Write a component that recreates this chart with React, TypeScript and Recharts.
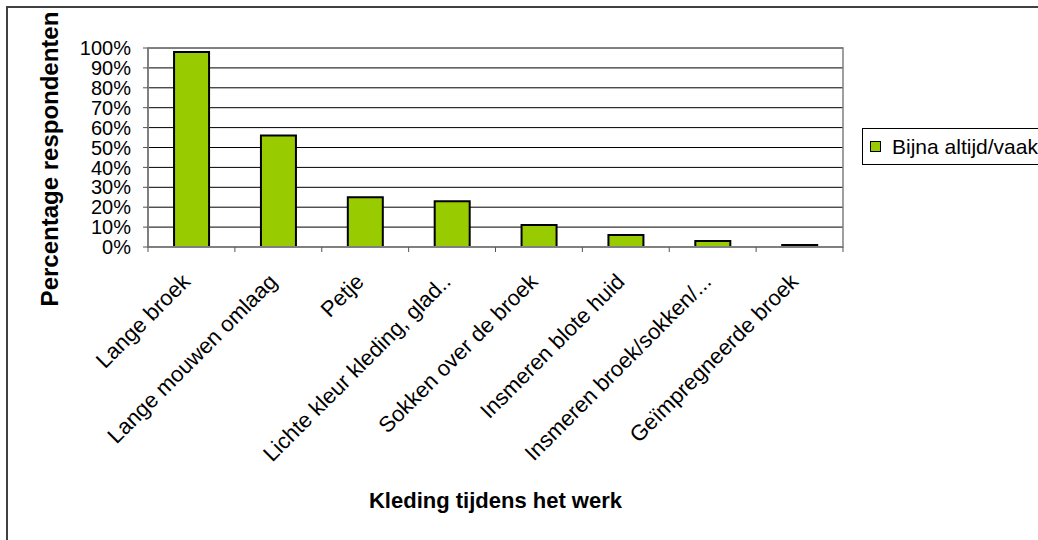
import React from 'react'
import { BarChart, Bar, XAxis, YAxis, CartesianGrid, Legend, ReferenceArea, Label } from 'recharts'

const categories = [
  'Lange broek',
  'Lange mouwen omlaag',
  'Petje',
  'Lichte kleur kleding, glad..',
  'Sokken over de broek',
  'Insmeren blote huid',
  'Insmeren broek/sokken/...',
  'Geïmpregneerde broek',
]
const vaak = [98, 56, 25, 23, 11, 6, 3, 1]
const yTicks = [0, 10, 20, 30, 40, 50, 60, 70, 80, 90, 100]
const seriesName = 'Bijna altijd/vaak'

const data = categories.map((name, i) => ({ name, vaak: vaak[i] }))

const FONT = '"Liberation Sans", Arial, sans-serif'
const GREEN = '#99CC00'

// x ticks sit between the categories, labels hang at 45 degrees
const XTick = (props: any) => {
  const { x, y, payload, index } = props
  const off = payload.offset || 0
  return (
    <g>
      {index === 0 && <line x1={x - off} x2={x - off} y1={y - 7} y2={y - 2} stroke="#555" />}
      <line x1={x + off} x2={x + off} y1={y - 7} y2={y - 2} stroke="#555" />
      <g transform={`translate(${x},${y + 29})`}>
        <text textAnchor="end" transform="rotate(-45)" fontSize={22} fontFamily={FONT} fill="#000">
          {payload.value}
        </text>
      </g>
    </g>
  )
}

const LegendBox = () => (
  <div
    style={{
      border: '1px solid #000',
      background: '#fff',
      height: 37,
      width: 220,
      boxSizing: 'border-box',
      display: 'flex',
      alignItems: 'center',
      paddingLeft: 7,
      fontFamily: FONT,
      fontSize: 21,
      whiteSpace: 'nowrap',
      color: '#000',
    }}
  >
    <span style={{ display: 'inline-block', width: 9, height: 9, background: GREEN, border: '1px solid #000', marginRight: 11 }} />
    {seriesName}
  </div>
)

export default function App() {
  return (
    <div style={{ position: 'absolute', left: 0, top: 0, width: 1038, height: 540, overflow: 'hidden', background: '#fff' }}>
      <div style={{ position: 'absolute', left: 6, top: 6, width: 1100, height: 600, borderLeft: '2px solid #404040', borderTop: '2px solid #404040' }} />
      <div style={{ position: 'absolute', left: 0, top: 0 }}>
        <BarChart
          width={1038}
          height={540}
          data={data}
          margin={{ top: 48, right: 195, left: 0, bottom: 0 }}
          barCategoryGap="30%"
        >
          <CartesianGrid vertical={false} stroke="#000" />
          <YAxis
            domain={[0, 100]}
            ticks={yTicks}
            width={148}
            tickFormatter={(v: number) => `${v}%`}
            axisLine={{ stroke: '#808080', strokeWidth: 2 }}
            tickLine={{ stroke: '#555' }}
            tickSize={5}
            tickMargin={12}
            interval={0}
            tick={{ fontSize: 20, fontFamily: FONT, fill: '#000' }}
          >
            <Label
              content={() => (
                <text
                  x={0}
                  y={0}
                  transform="translate(58,159) rotate(-90)"
                  textAnchor="middle"
                  fontSize={24}
                  fontWeight="bold"
                  fontFamily={FONT}
                  fill="#000"
                >
                  Percentage respondenten
                </text>
              )}
            />
          </YAxis>
          <XAxis
            dataKey="name"
            height={293}
            interval={0}
            axisLine={{ stroke: '#808080', strokeWidth: 2 }}
            tickLine={false}
            tickSize={5}
            tickMargin={2}
            tick={<XTick />}
          >
            <Label
              value="Kleding tijdens het werk"
              position="insideBottom"
              offset={32}
              style={{ fontSize: 22, fontWeight: 'bold', fontFamily: FONT, fill: '#000' }}
            />
          </XAxis>
          <ReferenceArea y1={0} y2={100} fill="none" stroke="#808080" strokeWidth={1.5} />
          <Bar dataKey="vaak" name={seriesName} fill={GREEN} stroke="#000" strokeWidth={2} isAnimationActive={false} />
          <Legend
            layout="horizontal"
            verticalAlign="middle"
            align="center"
            content={<LegendBox />}
            wrapperStyle={{ position: 'absolute', left: 862, top: 128, width: 220 }}
          />
        </BarChart>
      </div>
    </div>
  )
}
